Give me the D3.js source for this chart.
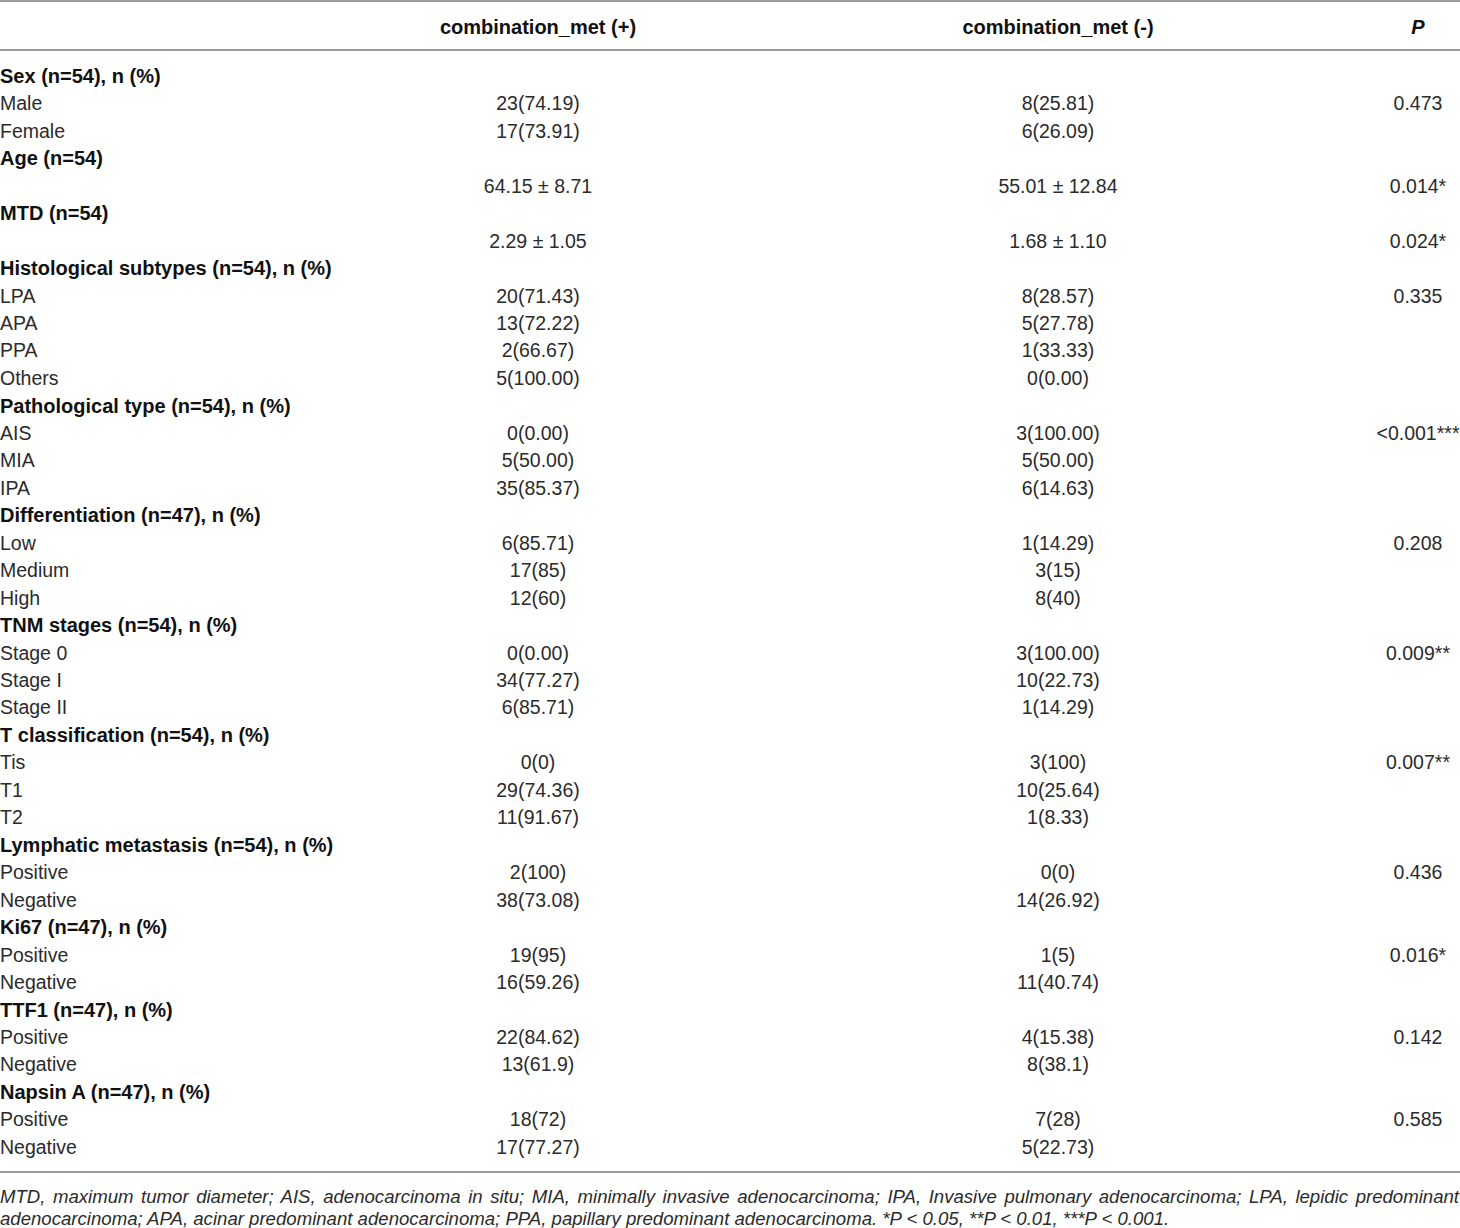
<!DOCTYPE html>
<html lang="en">
<head>
  <meta charset="UTF-8">
  <title>combination_met table</title>
  <script src="https://d3js.org/d3.v7.min.js"></script>
  <style>
    body { margin: 0; background: #fff; }
    svg { display: block; font-family: "Liberation Sans", Arial, sans-serif; }
    .cell { font-size: 19.5px; fill: #2b2b2b; }
    .bold { font-weight: bold; fill: #111; font-size: 20px; }
    .foot { font-size: 18.6px; font-style: italic; fill: #2b2b2b; }
  </style>
</head>
<body>
<svg width="1460" height="1228"></svg>
<script>
  const headers = ["combination_met (+)", "combination_met (-)", "P"];

  const labels = [
    "Sex (n=54), n (%)", "Male", "Female",
    "Age (n=54)", "",
    "MTD (n=54)", "",
    "Histological subtypes (n=54), n (%)", "LPA", "APA", "PPA", "Others",
    "Pathological type (n=54), n (%)", "AIS", "MIA", "IPA",
    "Differentiation (n=47), n (%)", "Low", "Medium", "High",
    "TNM stages (n=54), n (%)", "Stage 0", "Stage I", "Stage II",
    "T classification (n=54), n (%)", "Tis", "T1", "T2",
    "Lymphatic metastasis (n=54), n (%)", "Positive", "Negative",
    "Ki67 (n=47), n (%)", "Positive", "Negative",
    "TTF1 (n=47), n (%)", "Positive", "Negative",
    "Napsin A (n=47), n (%)", "Positive", "Negative"
  ];

  const headingRows = [0, 3, 5, 7, 12, 16, 20, 24, 28, 31, 34, 37];

  const metPos = [
    "", "23(74.19)", "17(73.91)",
    "", "64.15 ± 8.71",
    "", "2.29 ± 1.05",
    "", "20(71.43)", "13(72.22)", "2(66.67)", "5(100.00)",
    "", "0(0.00)", "5(50.00)", "35(85.37)",
    "", "6(85.71)", "17(85)", "12(60)",
    "", "0(0.00)", "34(77.27)", "6(85.71)",
    "", "0(0)", "29(74.36)", "11(91.67)",
    "", "2(100)", "38(73.08)",
    "", "19(95)", "16(59.26)",
    "", "22(84.62)", "13(61.9)",
    "", "18(72)", "17(77.27)"
  ];

  const metNeg = [
    "", "8(25.81)", "6(26.09)",
    "", "55.01 ± 12.84",
    "", "1.68 ± 1.10",
    "", "8(28.57)", "5(27.78)", "1(33.33)", "0(0.00)",
    "", "3(100.00)", "5(50.00)", "6(14.63)",
    "", "1(14.29)", "3(15)", "8(40)",
    "", "3(100.00)", "10(22.73)", "1(14.29)",
    "", "3(100)", "10(25.64)", "1(8.33)",
    "", "0(0)", "14(26.92)",
    "", "1(5)", "11(40.74)",
    "", "4(15.38)", "8(38.1)",
    "", "7(28)", "5(22.73)"
  ];

  const pVals = [
    "", "0.473", "",
    "", "0.014*",
    "", "0.024*",
    "", "0.335", "", "", "",
    "", "<0.001***", "", "",
    "", "0.208", "", "",
    "", "0.009**", "", "",
    "", "0.007**", "", "",
    "", "0.436", "",
    "", "0.016*", "",
    "", "0.142", "",
    "", "0.585", ""
  ];

  const footLines = [
    "MTD, maximum tumor diameter; AIS, adenocarcinoma in situ; MIA, minimally invasive adenocarcinoma; IPA, Invasive pulmonary adenocarcinoma; LPA, lepidic predominant",
    "adenocarcinoma; APA, acinar predominant adenocarcinoma; PPA, papillary predominant adenocarcinoma. *P < 0.05, **P < 0.01, ***P < 0.001."
  ];

  const svg = d3.select("svg");
  const width = +svg.attr("width");

  const y = d3.scaleLinear().domain([0, labels.length - 1]).range([76, 1147]);
  const colX = [538, 1058, 1418];

  // rules
  const rules = [1, 50, 1172];
  svg.append("g").selectAll("line")
    .data(rules).enter().append("line")
    .attr("x1", 0).attr("x2", width)
    .attr("y1", d => d).attr("y2", d => d)
    .attr("stroke", "#9a9a9a").attr("stroke-width", 2);

  // header row
  svg.append("g").selectAll("text")
    .data(headers).enter().append("text")
    .attr("class", "cell bold")
    .attr("x", (d, i) => colX[i])
    .attr("y", 27).attr("dy", "0.35em")
    .attr("text-anchor", "middle")
    .style("font-style", (d, i) => i === 2 ? "italic" : null)
    .text(d => d);

  // first column
  svg.append("g").selectAll("text")
    .data(labels).enter().append("text")
    .attr("class", (d, i) => headingRows.includes(i) ? "cell bold" : "cell")
    .attr("x", 0)
    .attr("y", (d, i) => y(i)).attr("dy", "0.35em")
    .text(d => d);

  // value columns
  [metPos, metNeg, pVals].forEach((col, c) => {
    svg.append("g").selectAll("text")
      .data(col).enter().append("text")
      .attr("class", "cell")
      .attr("x", colX[c])
      .attr("y", (d, i) => y(i)).attr("dy", "0.35em")
      .attr("text-anchor", "middle")
      .text(d => d);
  });

  // footnote, first line justified
  const foot = svg.append("g").selectAll("text")
    .data(footLines).enter().append("text")
    .attr("class", "foot")
    .attr("x", 0)
    .attr("y", (d, i) => 1196 + i * 22).attr("dy", "0.35em")
    .text(d => d);

  foot.filter((d, i) => i === 0).each(function(d) {
    const len = this.getComputedTextLength();
    const gaps = d.split(" ").length - 1;
    d3.select(this).attr("word-spacing", ((width - 1 - len) / gaps) + "px");
  });
</script>
</body>
</html>
